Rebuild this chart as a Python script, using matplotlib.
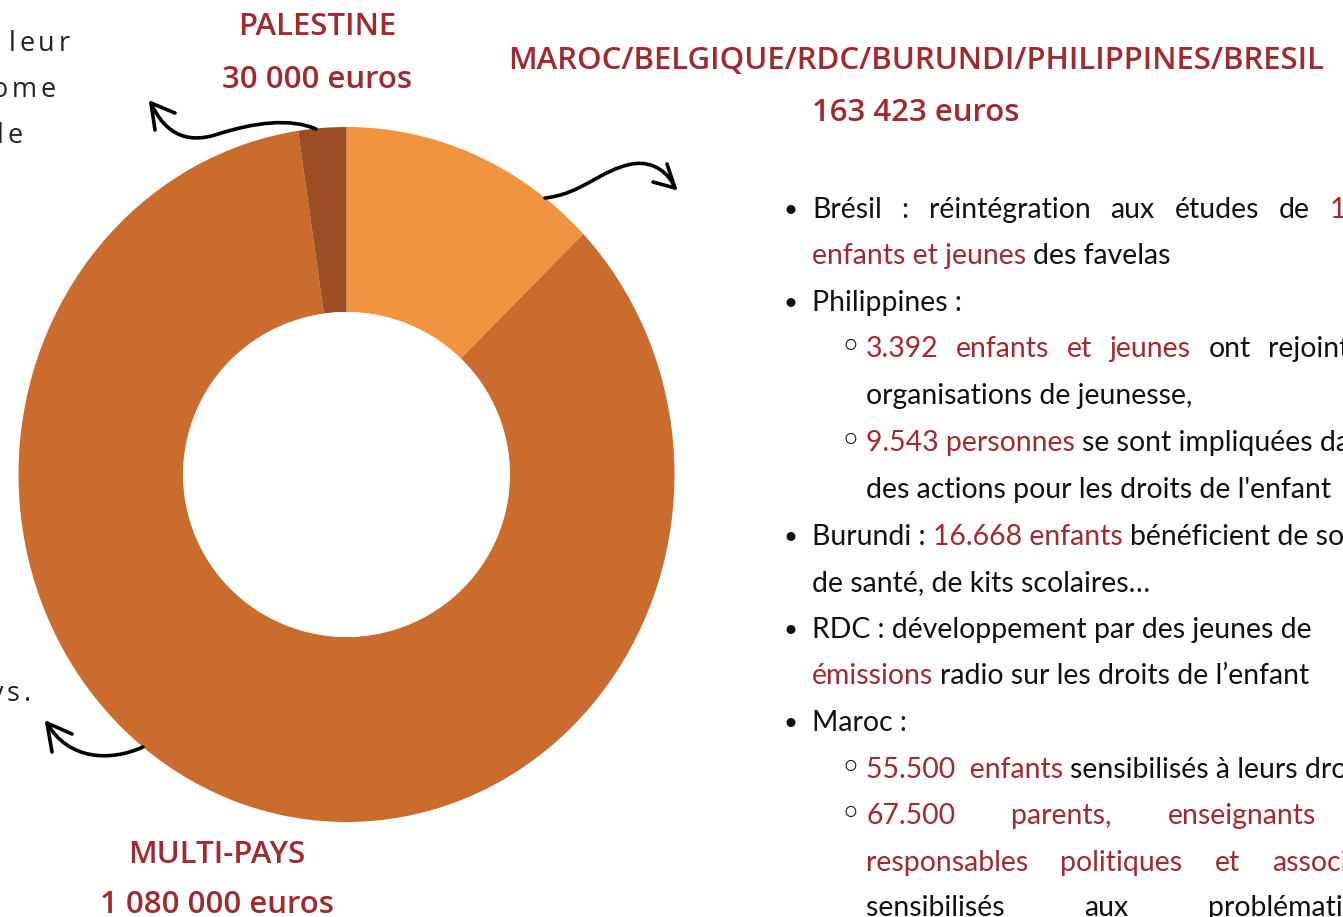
import matplotlib
matplotlib.use("Agg")
import matplotlib.pyplot as plt
from matplotlib.path import Path
from matplotlib.patches import PathPatch, Ellipse

# ---------------- data ----------------
slice_labels = ["MAROC/BELGIQUE/RDC/BURUNDI/PHILIPPINES/BRESIL", "MULTI-PAYS", "PALESTINE"]
slice_values = [163423, 1080000, 30000]
slice_colors = ["#F1943F", "#C96C2E", "#9B4D23"]
amount_labels = ["163 423 euros", "1 080 000 euros", "30 000 euros"]

RED = "#A2292E"
BLACK = "#111111"

# body text lines: (baseline y, bullet, x0, segments, justified (first x, last word x) or None)
body_lines = [
    (218, "•", 812, [("Brésil", BLACK), (":", BLACK), ("réintégration", BLACK), ("aux", BLACK),
                     ("études", BLACK), ("de", BLACK), ("1", RED)], (812, 1330)),
    (264, None, 812, [("enfants et jeunes", RED), ("des favelas", BLACK)], None),
    (311, "•", 812, [("Philippines :", BLACK)], None),
    (357, "◦", 866, [("3.392", RED), ("enfants", RED), ("et", RED), ("jeunes", RED),
                     ("ont", BLACK), ("rejoint", BLACK)], (866, 1268)),
    (404, None, 866, [("organisations de jeunesse,", BLACK)], None),
    (451, "◦", 866, [("9.543 personnes", RED), ("se sont impliquées dans", BLACK)], None),
    (498, None, 866, [("des actions pour les droits de l'enfant", BLACK)], None),
    (545, "•", 812, [("Burundi :", BLACK), ("16.668 enfants", RED), ("bénéficient de soins", BLACK)], None),
    (591, None, 812, [("de santé, de kits scolaires…", BLACK)], None),
    (638, "•", 812, [("RDC : développement par des jeunes de", BLACK)], None),
    (684, None, 812, [("émissions", RED), ("radio sur les droits de l’enfant", BLACK)], None),
    (731, "•", 812, [("Maroc :", BLACK)], None),
    (778, "◦", 866, [("55.500  enfants", RED), ("sensibilisés à leurs droits", BLACK)], None),
    (824, "◦", 866, [("67.500", RED), ("parents,", RED), ("enseignants", RED)], (866, 1168)),
    (871, None, 866, [("responsables", RED), ("politiques", RED), ("et", RED), ("associations", RED)],
     (866, 1272)),
    (916, None, 866, [("sensibilisés", BLACK), ("aux", BLACK), ("problématiques", BLACK)], (866, 1208)),
]

# partial (cut off) letter-spaced text on the left
left_words = [("leur", 70, 51), ("ome", 56, 97), ("le", 23, 143), ("ys.", 31, 701)]

# ---------------- figure ----------------
W, H = 1343, 917
fig = plt.figure(figsize=(W / 100, H / 100), dpi=100)
fig.patch.set_facecolor("white")

# donut axes (slightly taller than wide, like the reference)
cx, cy, rx, ry = 346.5, 474.5, 328.0, 347.5
axp = fig.add_axes([(cx - rx) / W, (H - (cy + ry)) / H, 2 * rx / W, 2 * ry / H])
inner_ry = 162.5
inner_rx = 163.5
axp.pie(slice_values, colors=slice_colors, startangle=90, counterclock=False,
        radius=1.0, wedgeprops=dict(width=1 - inner_ry / ry, linewidth=0))
axp.set_aspect("auto")
axp.set_xlim(-1, 1)
axp.set_ylim(-1, 1)
axp.add_patch(Ellipse((0, 0), 2 * inner_rx / rx, 2 * inner_ry / ry, facecolor="white",
                      edgecolor="none", zorder=5))
axp.axis("off")

# overlay axes in pixel coordinates
ax = fig.add_axes([0, 0, 1, 1])
ax.set_xlim(0, W)
ax.set_ylim(H, 0)
ax.axis("off")
ax.patch.set_alpha(0)

renderer = fig.canvas.get_renderer()
HEAD_FAM = ["Open Sans", "DejaVu Sans"]
BODY_FAM = ["Lato", "DejaVu Sans"]


def text_width(s, size, fam, weight="normal"):
    t = ax.text(0, 0, s, fontsize=size, family=fam, weight=weight)
    w = t.get_window_extent(renderer=renderer).width
    t.remove()
    return w


# fit font sizes to the widths seen in the reference
head_size = 20 * 820 / text_width(slice_labels[0], 20, HEAD_FAM, "semibold")
body_size = 20 * 327 / text_width("organisations de jeunesse,", 20, BODY_FAM)
space_w = text_width("a a", body_size, BODY_FAM) - text_width("aa", body_size, BODY_FAM)

# headings
headings = [
    (slice_labels[0], 916, 69), (amount_labels[0], 916, 121),
    (slice_labels[1], 217, 863), (amount_labels[1], 217, 913),
    (slice_labels[2], 317, 35), (amount_labels[2], 317, 88),
]
for s, x, y in headings:
    ax.text(x, y, s, fontsize=head_size, family=HEAD_FAM, weight="semibold", color=RED,
            ha="center", va="baseline")

# body lines
for y, bullet, x0, segs, just in body_lines:
    if bullet == "•":
        ax.text(790, y - 1, "•", fontsize=body_size * 0.85, family=BODY_FAM, color=BLACK,
                ha="center", va="baseline")
    elif bullet == "◦":
        ax.text(850, y + 1, "◦", fontsize=body_size * 1.3, family=["DejaVu Sans"], color=BLACK,
                ha="center", va="baseline")
    if just is not None:
        x_first, x_last = just
        widths = [text_width(s, body_size, BODY_FAM) for s, _ in segs]
        gap = (x_last - x_first - sum(widths[:-1])) / (len(segs) - 1)
        x = x_first
        for (s, c), w in zip(segs, widths):
            ax.text(x, y, s, fontsize=body_size, family=BODY_FAM, color=c, ha="left", va="baseline")
            x += w + gap
    else:
        x = x0
        for s, c in segs:
            ax.text(x, y, s, fontsize=body_size, family=BODY_FAM, color=c, ha="left", va="baseline")
            x += text_width(s, body_size, BODY_FAM) + space_w

# letter-spaced partial words on the left
left_size = body_size * 0.95
track = 4
for word, xr, y in left_words:
    x = xr
    for ch in reversed(word):
        ax.text(x, y, ch, fontsize=left_size, family=HEAD_FAM, color="#222222",
                ha="right", va="baseline")
        x -= text_width(ch, left_size, HEAD_FAM) + track


# hand-drawn style arrows
def curve(points):
    codes = [Path.MOVETO] + [Path.CURVE4] * (len(points) - 1)
    ax.add_patch(PathPatch(Path(points, codes), facecolor="none", edgecolor="black",
                           linewidth=2.6, capstyle="round", joinstyle="round", zorder=10))


def head(a, tip, b):
    ax.plot([a[0], tip[0], b[0]], [a[1], tip[1], b[1]], color="black", lw=2.6,
            solid_capstyle="round", solid_joinstyle="round", zorder=10)


curve([(316, 129), (290, 118), (255, 122), (215, 135), (185, 144), (164, 132), (151, 103)])
head((175, 113), (151, 103), (155, 130))

curve([(545, 198), (582, 194), (600, 170), (632, 164), (655, 160), (670, 175), (675, 188)])
head((667, 164), (675, 188), (653, 182))

curve([(143, 747), (110, 762), (68, 760), (47, 723)])
head((72, 734), (47, 723), (52, 752))

fig.savefig("out.png", dpi=100, facecolor="white")
